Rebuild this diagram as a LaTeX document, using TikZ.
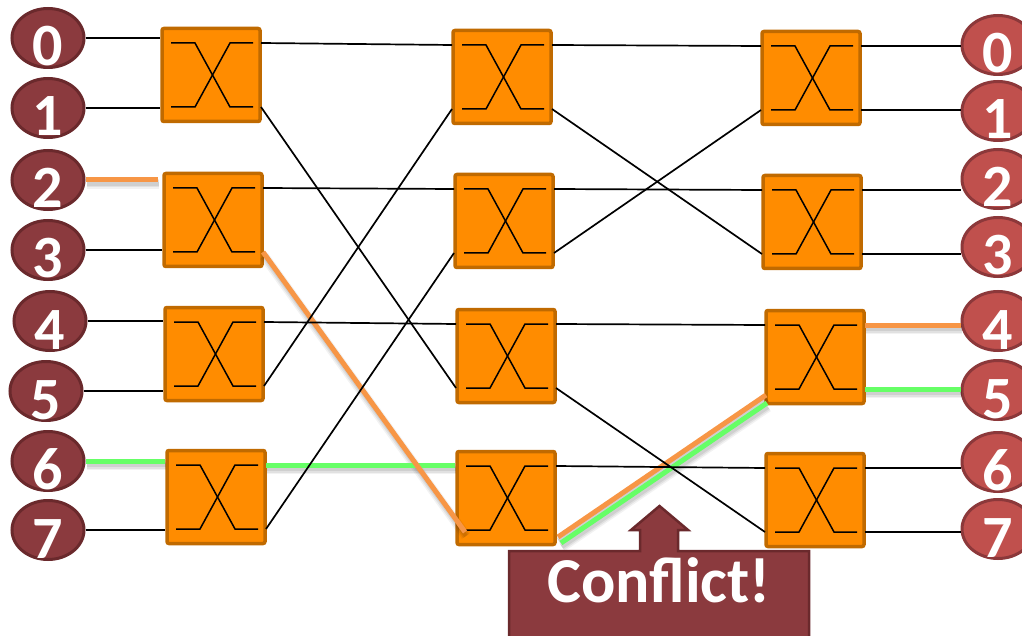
\documentclass[tikz,border=0pt]{standalone}
\usepackage{fontspec}
\setmainfont{Carlito}
\usetikzlibrary{shapes.geometric,calc}
\definecolor{lcf}{RGB}{139,58,62}
\definecolor{lcd}{RGB}{106,41,44}
\definecolor{rcf}{RGB}{192,80,77}
\definecolor{rcd}{RGB}{140,56,58}
\definecolor{swf}{RGB}{255,140,0}
\definecolor{swd}{RGB}{192,106,0}
\definecolor{orw}{RGB}{247,150,70}
\definecolor{grw}{RGB}{102,255,102}
\tikzset{
  swbox/.style={draw=swd, fill=swf, line width=3.5pt, rounded corners=2pt,
    minimum width=98pt, minimum height=93pt, inner sep=0pt},
  xbar/.style={line width=1.5pt, black},
  lcirc/.style={ellipse, draw=lcd, fill=lcf, line width=3pt, minimum width=72pt,
    minimum height=59pt, inner sep=0pt, text=white,
    font=\fontsize{60}{60}\selectfont\bfseries},
  rcirc/.style={lcirc, draw=rcd, fill=rcf},
  wire/.style={line width=1.7pt, black},
  orwire/.style={line width=5pt, orw},
  grwire/.style={line width=5pt, grw},
  shadwa/.style={line width=10pt, black, opacity=.05},
  shadwb/.style={line width=7pt, black, opacity=.07},
  shadwc/.style={line width=4pt, black, opacity=.08},
  callout/.style={draw=lcd, fill=lcf, line width=2.5pt, line join=miter},
}
\newcommand\dg[1]{\raisebox{-28pt}[0pt][0pt]{#1}}
\newcommand\swnode[2]{%
  \node[swbox] (#1) at (#2) {};
  \draw[xbar] ($(#1)+(-40,-32)$) -- ++(24,0) -- ++(35,64) -- ++(23,0);
  \draw[xbar] ($(#1)+(-40,32)$) -- ++(24,0) -- ++(35,-64) -- ++(23,0);
  \coordinate (#1-i0) at ($(#1)+(-50,-32)$);
  \coordinate (#1-i1) at ($(#1)+(-50,32)$);
  \coordinate (#1-o0) at ($(#1)+(50,-32)$);
  \coordinate (#1-o1) at ($(#1)+(50,32)$);
}
\newcommand\orangesegs[1]{%
  \draw[#1] (c2.east) -- ($(c2.east -| s12.west)+(-4,0)$);
  \draw[#1] (s12-o1) -- ($(s24-i1)+(9,2)$);
  \draw[#1] ($(s24-o1)+(2,7)$) -- ($(s33-i1)+(1,6)$);
  \draw[#1] (s33-o0) -- (s33-o0 -| r4.west);
}
\newcommand\greensegs[1]{%
  \draw[#1] (c6.east) -- (c6.east -| s14.west);
  \draw[#1] (s14-o0) -- (s14-o0 -| s24.west);
  \draw[#1] ($(s24-o1)+(5,13)$) -- ($(s33-i1)+(2,14)$);
  \draw[#1] (s33-o1) -- (s33-o1 -| r5.west);
}
\begin{document}
\begin{tikzpicture}[x=1pt,y=-1pt]
\useasboundingbox (0,0) rectangle (1022,636);
\clip (0,0) rectangle (1022,636);

% circles
\node[lcirc] (c0) at (48,38) {\dg{0}};
\node[lcirc] (c1) at (48,108) {\dg{1}};
\node[lcirc] (c2) at (48,180) {\dg{2}};
\node[lcirc] (c3) at (48,250) {\dg{3}};
\node[lcirc] (c4) at (50,321) {\dg{4}};
\node[lcirc] (c5) at (46,391) {\dg{5}};
\node[lcirc] (c6) at (48,461) {\dg{6}};
\node[lcirc] (c7) at (48,530) {\dg{7}};

\node[rcirc] (r0) at (998,45) {\dg{0}};
\node[rcirc] (r1) at (998,111) {\dg{1}};
\node[rcirc] (r2) at (998,179) {\dg{2}};
\node[rcirc] (r3) at (998,247) {\dg{3}};
\node[rcirc] (r4) at (998,321) {\dg{4}};
\node[rcirc] (r5) at (998,390) {\dg{5}};
\node[rcirc] (r6) at (998,462) {\dg{6}};
\node[rcirc] (r7) at (998,529) {\dg{7}};

% switches
\swnode{s11}{211,75}
\swnode{s12}{213,220}
\swnode{s13}{214,354}
\swnode{s14}{216,497}
\swnode{s21}{502,77}
\swnode{s22}{504,221}
\swnode{s23}{506,356}
\swnode{s24}{506,498}
\swnode{s31}{811,78}
\swnode{s32}{812,222}
\swnode{s33}{815,357}
\swnode{s34}{815,500}

% highlighted paths with soft shadows
\begin{scope}[transform canvas={xshift=1pt,yshift=-4pt}]
  \greensegs{shadwa}
  \orangesegs{shadwa}
  \greensegs{shadwb}
  \orangesegs{shadwb}
  \greensegs{shadwc}
  \orangesegs{shadwc}
\end{scope}
\greensegs{grwire}
\orangesegs{orwire}

% inputs
\draw[wire] (c0.east) -- (c0.east -| s11.west);
\draw[wire] (c1.east) -- (c1.east -| s11.west);
\draw[wire] (c3.east) -- (c3.east -| s12.west);
\draw[wire] (c4.east) -- (c4.east -| s13.west);
\draw[wire] (c5.east) -- (c5.east -| s13.west);
\draw[wire] (c7.east) -- (c7.east -| s14.west);
% stage 1 -> 2
\draw[wire] (s11-o0) -- (s21-i0);
\draw[wire] (s11-o1) -- (s23-i1);
\draw[wire] (s12-o0) -- (s22-i0);
\draw[wire] (s13-o0) -- (s23-i0);
\draw[wire] (s13-o1) -- (s21-i1);
\draw[wire] (s14-o1) -- (s22-i1);
% stage 2 -> 3
\draw[wire] (s21-o0) -- (s31-i0);
\draw[wire] (s21-o1) -- (s32-i1);
\draw[wire] (s22-o0) -- (s32-i0);
\draw[wire] (s22-o1) -- (s31-i1);
\draw[wire] (s23-o0) -- (s33-i0);
\draw[wire] (s23-o1) -- (s34-i1);
\draw[wire] (s24-o0) -- (s34-i0);
% outputs
\draw[wire] (s31-o0) -- (s31-o0 -| r0.west);
\draw[wire] (s31-o1) -- (s31-o1 -| r1.west);
\draw[wire] (s32-o0) -- (s32-o0 -| r2.west);
\draw[wire] (s32-o1) -- (s32-o1 -| r3.west);
\draw[wire] (s34-o0) -- (s34-o0 -| r6.west);
\draw[wire] (s34-o1) -- (s34-o1 -| r7.west);

% conflict callout
\path[callout] (509,551) -- (640,551) -- (640,530) -- (631,530) -- (659.5,506)
  -- (688,530) -- (678,530) -- (678,551) -- (809,551) -- (809,660) -- (509,660) -- cycle;
\node[anchor=base, text=white, font=\fontsize{64}{64}\selectfont\bfseries, inner sep=0pt]
  (conf) at (659,602) {Conflict!};
\end{tikzpicture}
\end{document}
